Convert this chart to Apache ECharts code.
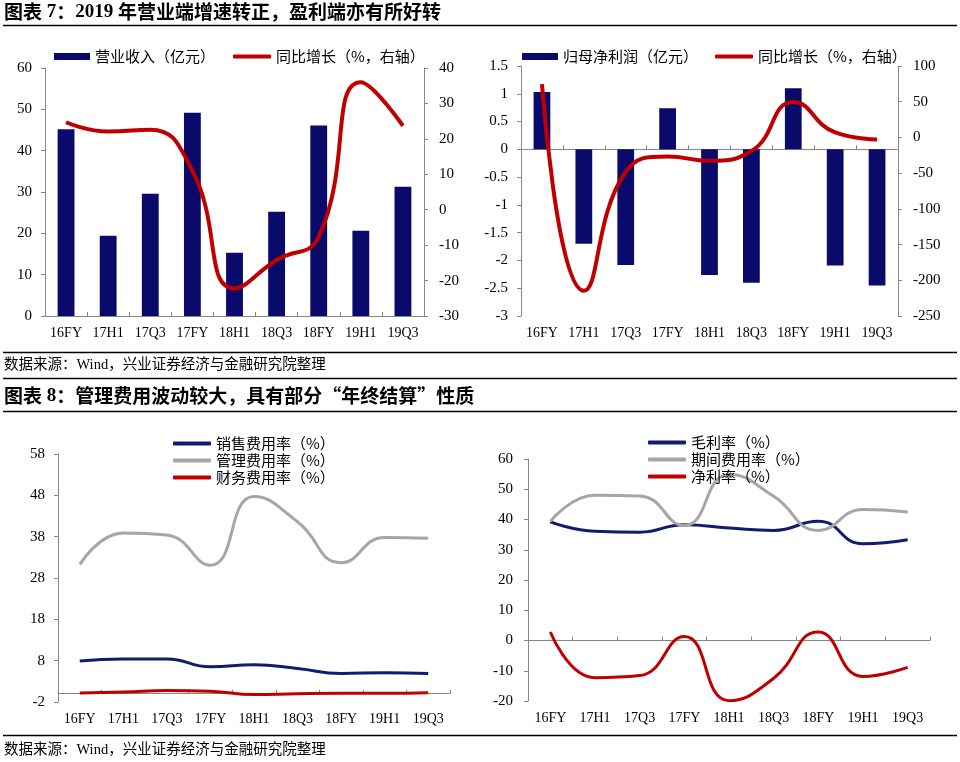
<!DOCTYPE html>
<html><head><meta charset="utf-8">
<script src="https://cdn.jsdelivr.net/npm/echarts@6/dist/echarts.min.js"></script>
<style>html,body{margin:0;padding:0;background:#fff}#c{width:960px;height:762px}</style>
</head><body><div id="c"></div><script>
const categories = ['16FY','17H1','17Q3','17FY','18H1','18Q3','18FY','19H1','19Q3'];
const revenue = [45.2,19.4,29.6,49.2,15.3,25.2,46.1,20.6,31.3];
const revenueYoY = [24.7,22.1,22.6,11,-22.2,-14.2,-7.6,36,23.7];
const netProfit = [1.03,-1.70,-2.08,0.74,-2.26,-2.40,1.10,-2.09,-2.45];
const netProfitYoY = [74.7,-214.6,-48,-26.6,-32.7,-19,49.5,7,-2.8];
const sellingRate = [7.9,8.4,8.4,6.5,7.0,6.1,4.9,5.1,4.9];
const adminRate = [31.3,38.9,38.4,31.1,47.7,41.6,31.7,37.8,37.6];
const financeRate = [0.2,0.4,0.8,0.6,-0.2,0,0.1,0.1,0.25];
const grossMargin = [39.2,36.1,35.8,38.3,37.2,36.4,39.4,32.0,33.3];
const periodExpRate = [39.4,48.0,47.8,38.0,54.9,47.7,36.4,43.3,42.5];
const netMargin = [2.8,-12.3,-11.6,1.3,-19.9,-12.5,2.8,-11.9,-8.9];
const costTicks = [-2,8,18,28,38,48,58];

// titles as rich text: {n|...} marks the Latin/digit parts drawn in serif
const title7 = '图表{n| 7}：{n|2019 }年营业端增速转正，盈利端亦有所好转';
const title8 = '图表{n| 8}：管理费用波动较大，具有部分“年终结算”性质';
const sourceText = '数据来源：Wind，兴业证券经济与金融研究院整理';

const NAVY = '#0a0a6b', RED = '#c00000', GRAY = '#a6a6a6', NAVY2 = '#101c6e';
const AXIS = '#868686';
const SERIF = '"Liberation Serif","Times New Roman",serif';
const SERIF_NOGEN = '"Liberation Serif","Times New Roman"';
const CJK = '"Noto Sans CJK SC",sans-serif';

function xMain(grid, showLabel) {
  return {type:'category', gridIndex:grid, data:categories, boundaryGap:true,
    axisLine:{show:true, onZero:true, lineStyle:{color:AXIS, width:1}},
    axisTick:{show:true, inside:true, length:4, lineStyle:{color:AXIS}},
    axisLabel:{show:showLabel, fontFamily:SERIF, fontSize:14, color:'#000', margin:10},
    splitLine:{show:false}};
}
function xLabels(grid) {
  return {type:'category', gridIndex:grid, data:categories, position:'bottom',
    axisLine:{show:false, onZero:false}, axisTick:{show:false},
    axisLabel:{show:true, fontFamily:SERIF, fontSize:14, color:'#000', margin:10},
    splitLine:{show:false}};
}
function yAx(grid, pos, min, max, interval, margin) {
  return {type:'value', gridIndex:grid, position:pos, min:min, max:max, interval:interval,
    axisLine:{show:true, onZero:false, lineStyle:{color:AXIS, width:1}},
    axisTick:{show:true, inside:false, length:4, lineStyle:{color:AXIS}},
    axisLabel:{fontFamily:SERIF, fontSize:15, color:'#000', margin:margin},
    splitLine:{show:false}};
}
function legendOne(name, left, top, icon, w, h) {
  return {data:[{name:name, icon:icon}], left:left, top:top, itemWidth:w, itemHeight:h,
    itemGap:0, selectedMode:false, padding:0,
    textStyle:{fontFamily:CJK, fontSize:15, color:'#000', lineHeight:17}};
}
function legendV(names, left, top) {
  return {data:names.map(n => ({name:n, icon:'roundRect'})), orient:'vertical', left:left, top:top,
    itemWidth:38, itemHeight:4, itemGap:0, selectedMode:false, padding:0,
    textStyle:{fontFamily:CJK, fontSize:15, color:'#000', lineHeight:17}};
}
function hline(y) {
  return {type:'line', shape:{x1:3, y1:y, x2:957, y2:y}, style:{stroke:'#000', lineWidth:1.3}};
}
function txt(s, x, y, font) {
  return {type:'text', x:x, y:y, style:{text:s, font:font, fill:'#000', verticalAlign:'middle', align:'left'}};
}
function titleTxt(s, x, y) {
  return {type:'text', x:x, y:y, style:{text:s, font:'bold 19px "Noto Sans CJK SC"', fill:'#000',
    verticalAlign:'middle', align:'left',
    rich:{n:{font:'bold 19px ' + SERIF_NOGEN, fill:'#000', verticalAlign:'middle'}}}};
}

const yCost = yAx(2, 'left', -2, 58, null, 13);
delete yCost.interval;
yCost.axisLabel.customValues = costTicks;
yCost.axisTick.customValues = costTicks;

const option = {
  animation:false,
  backgroundColor:'#fff',
  grid:[
    {left:45, top:68, width:379, height:248},
    {left:521, top:66, width:377, height:250},
    {left:58, top:454, width:392, height:248},
    {left:528, top:459, width:402, height:242}
  ],
  xAxis:[
    xMain(0, true),
    xMain(1, false), xLabels(1),
    xMain(2, false), xLabels(2),
    xMain(3, false), xLabels(3)
  ],
  yAxis:[
    yAx(0, 'left', 0, 60, 10, 13),
    yAx(0, 'right', -30, 40, 10, 15),
    yAx(1, 'left', -3, 1.5, 0.5, 13),
    yAx(1, 'right', -250, 100, 50, 15),
    yCost,
    yAx(3, 'left', -20, 60, 10, 15)
  ],
  legend:[
    legendOne('营业收入（亿元）', 54, 48, 'rect', 36, 7),
    legendOne('同比增长（%，右轴）', 233, 48, 'roundRect', 38, 4),
    legendOne('归母净利润（亿元）', 522, 48, 'rect', 36, 7),
    legendOne('同比增长（%，右轴）', 715, 48, 'roundRect', 38, 4),
    legendV(['销售费用率（%）','管理费用率（%）','财务费用率（%）'], 173, 435),
    legendV(['毛利率（%）','期间费用率（%）','净利率（%）'], 648, 434)
  ],
  series:[
    {name:'营业收入（亿元）', type:'bar', xAxisIndex:0, yAxisIndex:0, data:revenue, barWidth:'40%', itemStyle:{color:NAVY}},
    {name:'同比增长（%，右轴）', type:'line', xAxisIndex:0, yAxisIndex:1, data:revenueYoY, smooth:true, showSymbol:false, symbol:'none', lineStyle:{color:RED, width:4}, itemStyle:{color:RED}, z:3},
    {name:'归母净利润（亿元）', type:'bar', xAxisIndex:1, yAxisIndex:2, data:netProfit, barWidth:'40%', itemStyle:{color:NAVY}},
    {name:'同比增长（%，右轴）', type:'line', xAxisIndex:1, yAxisIndex:3, data:netProfitYoY, smooth:true, showSymbol:false, symbol:'none', lineStyle:{color:RED, width:4}, itemStyle:{color:RED}, z:3},
    {name:'销售费用率（%）', type:'line', xAxisIndex:3, yAxisIndex:4, data:sellingRate, smooth:true, showSymbol:false, symbol:'none', lineStyle:{color:NAVY2, width:3}, itemStyle:{color:NAVY2}},
    {name:'管理费用率（%）', type:'line', xAxisIndex:3, yAxisIndex:4, data:adminRate, smooth:true, showSymbol:false, symbol:'none', lineStyle:{color:GRAY, width:3}, itemStyle:{color:GRAY}},
    {name:'财务费用率（%）', type:'line', xAxisIndex:3, yAxisIndex:4, data:financeRate, smooth:true, showSymbol:false, symbol:'none', lineStyle:{color:RED, width:3}, itemStyle:{color:RED}},
    {name:'毛利率（%）', type:'line', xAxisIndex:5, yAxisIndex:5, data:grossMargin, smooth:true, showSymbol:false, symbol:'none', lineStyle:{color:NAVY2, width:3}, itemStyle:{color:NAVY2}},
    {name:'期间费用率（%）', type:'line', xAxisIndex:5, yAxisIndex:5, data:periodExpRate, smooth:true, showSymbol:false, symbol:'none', lineStyle:{color:GRAY, width:3}, itemStyle:{color:GRAY}},
    {name:'净利率（%）', type:'line', xAxisIndex:5, yAxisIndex:5, data:netMargin, smooth:true, showSymbol:false, symbol:'none', lineStyle:{color:RED, width:3}, itemStyle:{color:RED}}
  ],
  graphic:[
    titleTxt(title7, 4, 12),
    hline(25.5),
    hline(352.5),
    txt(sourceText, 4, 365, '14.5px ' + SERIF_NOGEN + ',' + CJK),
    hline(378.5),
    titleTxt(title8, 4, 396),
    hline(411.5),
    hline(735.5),
    txt(sourceText, 4, 750, '14.5px ' + SERIF_NOGEN + ',' + CJK)
  ]
};
const chart = echarts.init(document.getElementById('c'), null, {renderer:'canvas'});
chart.setOption(option);
</script></body></html>
